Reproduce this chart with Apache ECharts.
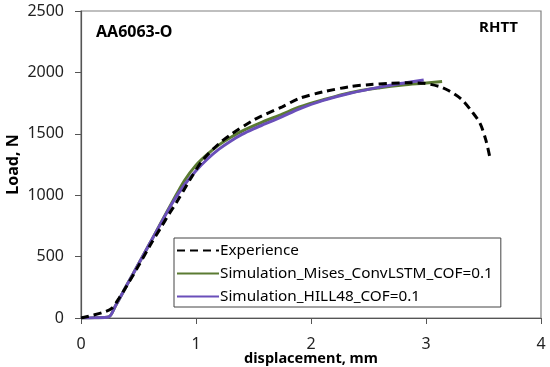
<!DOCTYPE html>
<html>
<head>
<meta charset="utf-8">
<script src="https://cdn.jsdelivr.net/npm/echarts@6/dist/echarts.min.js"></script>
<style>html,body{margin:0;padding:0;background:#fff}#c{width:550px;height:367px}</style>
</head>
<body>
<div id="c"></div>
<script>
var xTicks = [0, 1, 2, 3, 4];
var yTicks = [0, 500, 1000, 1500, 2000, 2500];
var seriesNames = ['Experience', 'Simulation_Mises_ConvLSTM_COF=0.1', 'Simulation_HILL48_COF=0.1'];

var expX = [0, 0.1, 0.2, 0.27, 0.33, 0.4, 0.5, 0.6, 0.7, 0.77, 0.83, 0.95, 1.06, 1.2, 1.3, 1.5, 1.56, 1.75, 1.9, 2.1, 2.34, 2.5, 2.69, 2.85, 2.98, 3.12, 3.2, 3.31, 3.4, 3.47, 3.52, 3.555];
var expY = [0, 22, 48, 80, 160, 265, 425, 590, 745, 853, 940, 1130, 1287, 1420, 1492, 1612, 1640, 1720, 1789, 1840, 1884, 1900, 1911, 1915, 1911, 1884, 1850, 1780, 1680, 1585, 1450, 1310];

var misesX = [0, 0.12, 0.24, 0.3, 0.4, 0.5, 0.6, 0.7, 0.8, 0.9, 1.0, 1.1, 1.2, 1.3, 1.4, 1.55, 1.75, 1.9, 2.1, 2.34, 2.6, 2.8, 2.98, 3.14];
var misesY = [0, 2, 8, 100, 270, 440, 610, 785, 955, 1120, 1245, 1335, 1410, 1470, 1522, 1585, 1660, 1718, 1775, 1835, 1875, 1898, 1912, 1925];

var hillX = [0, 0.12, 0.24, 0.3, 0.4, 0.5, 0.6, 0.7, 0.8, 0.9, 1.0, 1.1, 1.2, 1.3, 1.4, 1.5, 1.6, 1.75, 1.9, 2.1, 2.34, 2.6, 2.8, 2.98];
var hillY = [0, 2, 8, 100, 270, 440, 610, 780, 945, 1085, 1200, 1295, 1375, 1440, 1495, 1540, 1580, 1640, 1703, 1770, 1830, 1880, 1912, 1938];

function zip(a, b) { return a.map(function (v, i) { return [v, b[i]]; }); }

var chart = echarts.init(document.getElementById('c'), null, {renderer: 'canvas'});
var font = 'Noto Sans';
chart.setOption({
  animation: false,
  backgroundColor: '#fff',
  grid: {left: 81, top: 11, right: 9, bottom: 49, show: true, borderColor: '#808080', borderWidth: 1.2,
    containLabel: false, outerBoundsMode: 'none'},
  title: [
    {text: 'AA6063-O', left: 91, top: 19, textStyle: {fontFamily: font, fontSize: 16, fontWeight: 'bold', color: '#000'}},
    {text: 'RHTT', right: 27, top: 15, textStyle: {fontFamily: font, fontSize: 15, fontWeight: 'bold', color: '#000'}}
  ],
  legend: {
    orient: 'vertical', left: 174, top: 238, width: 329,
    padding: [5, 8, 3, 2], itemGap: 8, itemWidth: 42, itemHeight: 14,
    borderColor: '#444', borderWidth: 1, backgroundColor: '#fff',
    itemStyle: {color: 'transparent', borderWidth: 0, opacity: 0},
    textStyle: {fontFamily: font, fontSize: 15.3, color: '#000', padding: [0, 0, 0, -4]},
    data: seriesNames
  },
  xAxis: {
    type: 'value', min: 0, max: 4, interval: 1,
    name: 'displacement, mm', nameLocation: 'middle', nameGap: 33, nameMoveOverlap: false,
    nameTextStyle: {fontFamily: font, fontSize: 14.5, fontWeight: 'bold', color: '#000'},
    axisLine: {show: true, lineStyle: {color: '#555', width: 1.2}},
    axisTick: {show: true, length: 6, lineStyle: {color: '#555'}},
    axisLabel: {fontFamily: font, fontSize: 16, color: '#222', margin: 18,
      formatter: function (v) { return xTicks.indexOf(v) >= 0 ? String(v) : ''; }},
    splitLine: {show: false}
  },
  yAxis: {
    type: 'value', min: 0, max: 2500, interval: 500,
    name: 'Load, N', nameLocation: 'middle', nameGap: 60, nameMoveOverlap: false,
    nameTextStyle: {fontFamily: font, fontSize: 16, fontWeight: 'bold', color: '#000'},
    axisLine: {show: true, lineStyle: {color: '#555', width: 1.2}},
    axisTick: {show: true, length: 6, lineStyle: {color: '#555'}},
    axisLabel: {fontFamily: font, fontSize: 16, color: '#222', margin: 17,
      formatter: function (v) { return yTicks.indexOf(v) >= 0 ? String(v) : ''; }},
    splitLine: {show: false}
  },
  series: [
    {name: seriesNames[1], type: 'line', data: zip(misesX, misesY), symbol: 'none', smooth: 0.3,
      lineStyle: {color: '#5B7B32', width: 3}, itemStyle: {color: '#5B7B32'}, z: 2},
    {name: seriesNames[2], type: 'line', data: zip(hillX, hillY), symbol: 'none', smooth: 0.3,
      lineStyle: {color: '#6A4FBA', width: 3}, itemStyle: {color: '#6A4FBA'}, z: 3},
    {name: seriesNames[0], type: 'line', data: zip(expX, expY), symbol: 'none', smooth: 0.3,
      lineStyle: {color: '#000', width: 3, type: [8, 5]}, itemStyle: {color: '#000'}, z: 4}
  ]
});
</script>
</body>
</html>
